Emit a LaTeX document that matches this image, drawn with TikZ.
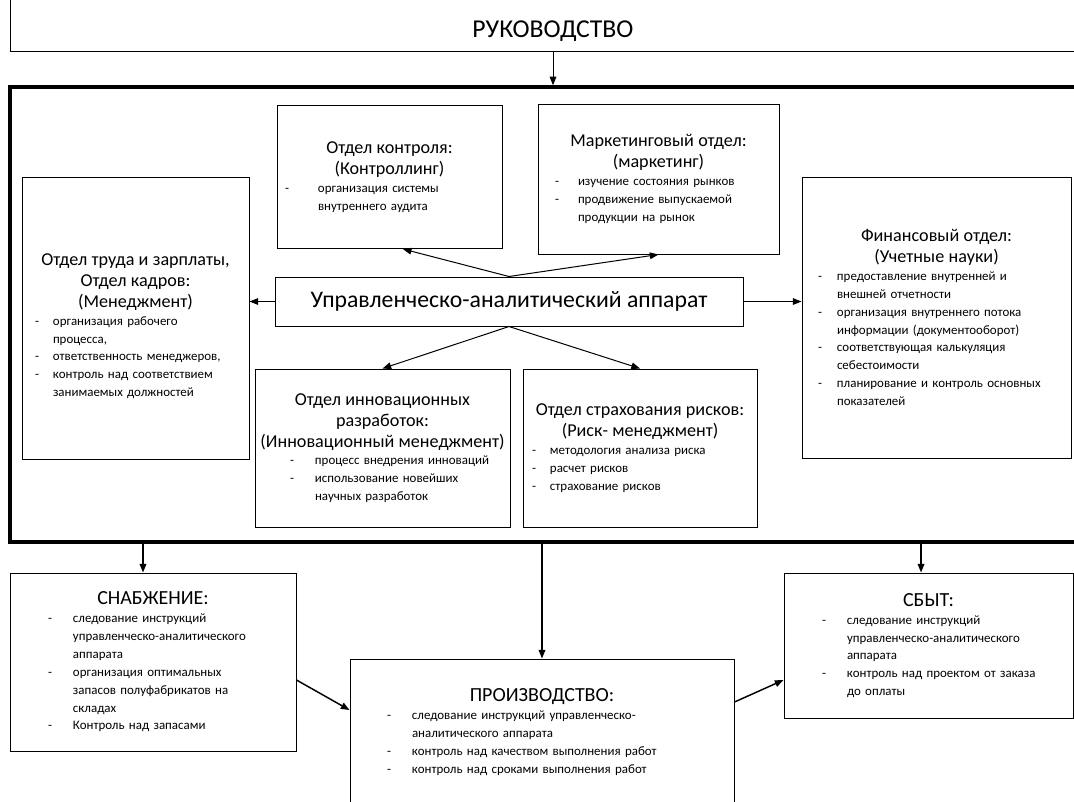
\documentclass[tikz,border=0pt]{standalone}
\usepackage{fontspec}
\setmainfont{Carlito}
\usetikzlibrary{arrows.meta}

\newlength\dashx
\newlength\itemx
\newcommand\ttl[1]{{\centering\fontsize{13.6pt}{15.75pt}\selectfont #1\par}}
\newcommand\bigttl[1]{{\centering\fontsize{15pt}{17pt}\selectfont #1\par}}
\newcommand\bul[1]{\par\hangindent=\itemx\hangafter=1\noindent\hbox to\itemx{\hspace*{\dashx}-\hfil}#1\par}

\tikzset{every picture/.style={line width=0.75pt}}
\tikzset{
  box/.style={draw, inner sep=0pt, align=left, font=\fontsize{9.7pt}{13.4pt}\selectfont},
  indents/.style 2 args={execute at begin node={\setlength{\dashx}{#1}\setlength{\itemx}{#2}\hyphenpenalty=10000\exhyphenpenalty=10000}},
  arr/.style={-{Triangle[length=6.5pt,width=5pt]}},
  arr2/.style={arr, line width=1.1pt},
}

\begin{document}
\begin{tikzpicture}[x=0.75pt,y=0.75pt,yscale=-1,xscale=1]
\useasboundingbox (0,0) rectangle (1074,801);

%Shape: Rectangle [top]
\node[draw, inner sep=0pt, minimum width=814.5pt, text height=51pt, text depth=10.5pt, anchor=south, font=\fontsize{19.3pt}{22pt}\selectfont] (ruk) at (553,52) {РУКОВОДСТВО};
%Shape: Rectangle [frame]
\node[draw, line width=2.6pt, minimum width=814.5pt, minimum height=341.25pt] (frame) at (553,314.5) {};

%Shape: Rectangle [centre]
\node[draw, minimum width=351pt, minimum height=36.75pt, font=\fontsize{17.8pt}{20pt}\selectfont] (apparat) at (509,301.5) {Управленческо-аналитический аппарат};

% Text Node
\node[box, indents={6pt}{30.75pt}, text width=168.75pt, minimum height=107.25pt] (kontrol) at (389.5,177) {%
\ttl{Отдел контроля:\\(Контроллинг)}%
\bul{организация системы\newline внутреннего аудита}};
% Text Node
\node[box, indents={12.75pt}{30pt}, text width=180.75pt, minimum height=112.5pt] (market) at (658.5,179) {%
\ttl{Маркетинговый отдел:\\(маркетинг)}%
\bul{изучение состояния рынков}%
\bul{продвижение выпускаемой\newline продукции на рынок}};
% Text Node
\node[box, indents={9.75pt}{23.25pt}, text width=170.25pt, minimum height=211.5pt] (trud) at (135.5,318) {%
\ttl{\rule{0pt}{21pt}Отдел труда и зарплаты,\\Отдел кадров:\\(Менеджмент)}%
\bul{организация рабочего\newline процесса,}%
\bul{ответственность менеджеров,}%
\bul{контроль над соответствием\newline занимаемых должностей}};
% Text Node
\node[box, indents={12pt}{26.25pt}, text width=201.75pt, minimum height=210.75pt] (fin) at (936.5,317.5) {%
\ttl{Финансовый отдел:\\(Учетные науки)}%
\bul{предоставление внутренней и\newline внешней отчетности}%
\bul{организация внутреннего потока\newline информации (документооборот)}%
\bul{соответствующая калькуляция\newline себестоимости}%
\bul{планирование и контроль основных\newline показателей}};
% Text Node
\node[box, indents={26.25pt}{45pt}, text width=191.25pt, minimum height=118.5pt] (innov) at (382.5,448) {%
\ttl{Отдел инновационных\\разработок:\\(Инновационный менеджмент)}%
\bul{процесс внедрения инноваций}%
\bul{использование новейших\newline научных разработок}};
% Text Node
\node[box, indents={6.75pt}{20.25pt}, text width=175.5pt, minimum height=118.5pt] (risk) at (640,448) {%
\ttl{Отдел страхования рисков:\\(Риск- менеджмент)}%
\bul{методология анализа риска}%
\bul{расчет рисков}%
\bul{страхование рисков}};

% Text Node
\node[box, indents={28.5pt}{47.25pt}, text width=214.5pt, minimum height=133.5pt] (snab) at (153,662) {%
\bigttl{СНАБЖЕНИЕ:}%
\bul{следование инструкций\newline управленческо-аналитического\newline аппарата}%
\bul{организация оптимальных\newline запасов полуфабрикатов на\newline складах}%
\bul{Контроль над запасами}};
% Text Node
\node[box, indents={27.75pt}{46.5pt}, text width=288pt, minimum height=109.5pt] (prod) at (542,732) {%
\bigttl{ПРОИЗВОДСТВО:}%
\bul{следование инструкций управленческо-\newline аналитического аппарата}%
\bul{контроль над качеством выполнения работ}%
\bul{контроль над сроками выполнения работ}};
% Text Node
\node[box, indents={28.5pt}{47.25pt}, text width=216.75pt, minimum height=108.75pt] (sbyt) at (928.5,645.5) {%
\bigttl{СБЫТ:}%
\bul{следование инструкций\newline управленческо-аналитического\newline аппарата}%
\bul{контроль над проектом от заказа\newline до оплаты}};

%Straight Lines
\draw[arr] (ruk.south) -- (frame.north);
\draw[arr] (apparat.north) -- ([xshift=10pt]kontrol.south);
\draw[arr] (apparat.north) -- (market.south);
\draw[arr] (apparat.west) -- (apparat.west -| trud.east);
\draw[arr] (apparat.east) -- (apparat.east -| fin.west);
\draw[arr] (apparat.south) -- (innov.north);
\draw[arr] (apparat.south) -- (risk.north);
%Straight Lines
\draw[arr2] ([xshift=-7.5pt]snab.north |- frame.south) -- ([xshift=-7.5pt]snab.north);
\draw[arr2] (prod.north |- frame.south) -- (prod.north);
\draw[arr2] ([xshift=-5.6pt]sbyt.north |- frame.south) -- ([xshift=-5.6pt]sbyt.north);
\draw[arr2] ([yshift=13.5pt]snab.east) -- ([yshift=-16.5pt]prod.west);
\draw[arr2] ([yshift=-22.5pt]prod.east) -- ([yshift=25.9pt]sbyt.west);

\end{tikzpicture}
\end{document}
